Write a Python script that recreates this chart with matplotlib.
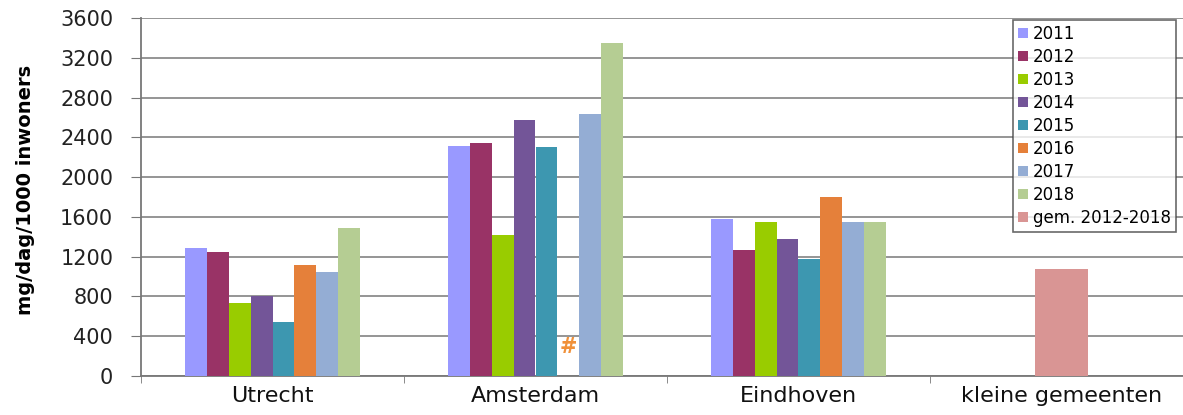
import numpy as np
import matplotlib
matplotlib.use("Agg")
import matplotlib.pyplot as plt

# data (mg/dag/1000 inwoners)
steden = ["Utrecht", "Amsterdam", "Eindhoven", "kleine gemeenten"]
jaren = ["2011", "2012", "2013", "2014", "2015", "2016", "2017", "2018"]

utrecht = [1285, 1250, 730, 805, 540, 1115, 1045, 1490]
amsterdam = [2315, 2340, 1420, 2575, 2305, np.nan, 2635, 3345]   # 2016 ontbreekt (#)
eindhoven = [1575, 1270, 1545, 1375, 1175, 1795, 1545, 1545]
gem_label = "gem. 2012-2018"
gem_kleine = 1078

kleuren = ["#9999FF", "#993366", "#99CC00", "#735598", "#3D97B0",
           "#E5803A", "#94ADD4", "#B5CD93"]
gem_kleur = "#D99594"

waarden = np.array([utrecht, amsterdam, eindhoven])

fig = plt.figure(figsize=(11.83, 4.15), dpi=100)
ax = fig.add_axes([141 / 1183, 1 - 376 / 415, (1193 - 141) / 1183, (376 - 18) / 415])

x = np.arange(len(steden))
bw = 0.083
n = len(jaren)
for i, jaar in enumerate(jaren):
    ax.bar(x[:3] + (i - (n - 1) / 2) * bw, waarden[:, i], width=bw,
           color=kleuren[i], label=jaar, zorder=3)
ax.bar(x[3], gem_kleine, width=0.2, color=gem_kleur, label=gem_label, zorder=3)

# '#' marker for missing Amsterdam 2016 value
ax.text(x[1] + (5 - (n - 1) / 2) * bw, 190, "#", color="#F0913A",
        fontsize=15, fontweight="bold", ha="center", va="bottom", zorder=4)

ax.set_xlim(-0.5, 3.5)
ax.set_ylim(0, 3600)
ax.set_yticks(np.arange(0, 3601, 400))
ax.yaxis.grid(True, color="#8C8C8C", linewidth=1.3, zorder=0)
ax.set_axisbelow(True)

ax.set_xticks(x)
ax.set_xticklabels(steden, fontsize=16, color="#111111")
ax.set_xticks(np.arange(-0.5, 3.6, 1), minor=True)
ax.tick_params(axis="x", which="major", length=0, pad=7)
ax.tick_params(axis="x", which="minor", length=5, color="#777777", direction="out")
ax.tick_params(axis="y", length=7, color="#777777", labelsize=15,
               labelcolor="#222222", pad=13)

for s in ["top", "right"]:
    ax.spines[s].set_visible(False)
ax.spines["left"].set_color("#777777")
ax.spines["left"].set_linewidth(1.3)
ax.spines["bottom"].set_color("#777777")
ax.spines["bottom"].set_linewidth(1.3)

ax.set_ylabel("mg/dag/1000 inwoners", fontsize=14, fontweight="bold")
ax.yaxis.set_label_coords(-0.101, 0.52)

leg = fig.legend(loc="upper left", bbox_to_anchor=(1013 / 1183, 1 - 20 / 415),
                 fontsize=12, frameon=True, fancybox=False, edgecolor="#444444",
                 handlelength=0.6, handleheight=0.6, handletextpad=0.3,
                 labelspacing=0.3, borderpad=0.3, borderaxespad=0)
leg.get_frame().set_linewidth(1.2)

fig.savefig("out.png", dpi=100)
